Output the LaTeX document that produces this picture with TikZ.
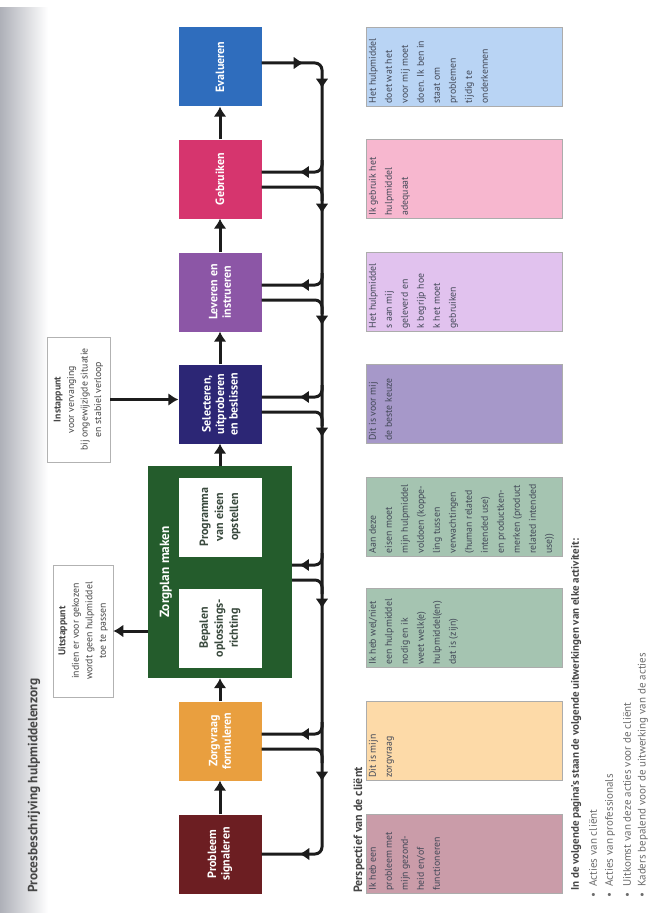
\documentclass[tikz,border=0pt]{standalone}
\usepackage{fontspec}
\setmainfont{PT Sans}
\usetikzlibrary{arrows.meta,calc,decorations.markings}
\definecolor{cEval}{HTML}{2F6DBD}
\definecolor{cGebr}{HTML}{D6356E}
\definecolor{cLev}{HTML}{8C56A6}
\definecolor{cSel}{HTML}{2C2675}
\definecolor{cGreen}{HTML}{245C2C}
\definecolor{cZorg}{HTML}{E99F3F}
\definecolor{cProb}{HTML}{6C1E22}
\definecolor{lEval}{HTML}{B9D4F4}
\definecolor{lGebr}{HTML}{F7B7CF}
\definecolor{lLev}{HTML}{E1C2EE}
\definecolor{lSel}{HTML}{A698C9}
\definecolor{lGreen}{HTML}{A5C4B1}
\definecolor{lZorg}{HTML}{FDDAA8}
\definecolor{lProb}{HTML}{CA9CA9}
\definecolor{ink}{HTML}{1C1C1C}
\definecolor{boxtext}{HTML}{424857}
\definecolor{innertext}{HTML}{3A4A3E}
\definecolor{titlegray}{HTML}{474747}
\definecolor{shadow}{HTML}{AEB0B8}
\begin{document}
\begin{tikzpicture}[x=1pt,y=1pt,
  proc/.style={rotate=90, minimum width=79pt, minimum height=83pt, inner sep=1pt,
    align=center, text=white, font=\fontsize{12}{13.5}\selectfont\bfseries},
  inner/.style={proc, fill=white, text=innertext, font=\fontsize{12}{15}\selectfont\bfseries},
  pers/.style={rotate=90, draw=gray!65, line width=0.6pt, inner sep=3pt,
    text=boxtext, font=\fontsize{9.8}{16}\selectfont},
  note/.style={rotate=90, draw=gray!60, line width=0.6pt, fill=white, align=center,
    text=titlegray, font=\fontsize{9.8}{13.5}\selectfont},
  flow/.style={line width=3pt, draw=ink, -{Latex[length=10pt,width=13pt]}},
  busline/.style={line width=3pt, draw=ink, rounded corners=7pt},
  tipsat/.style={postaction={decorate}, decoration={markings,
    mark=at position #1 with {\arrow{Latex[length=10pt,width=13pt]}}}},
  bulletitem/.style={rotate=90, anchor=west, inner sep=0pt, text=gray!85!black,
    font=\fontsize{11}{12}\selectfont}
]
\useasboundingbox (0,0) rectangle (648,-915);
\fill[white] (0,0) rectangle (648,-915);
\shade[left color=shadow, right color=white] (0,-8) rectangle (48,-912);

% title
\node[rotate=90, anchor=west, inner sep=0pt, text=titlegray,
  font=\fontsize{13.4}{15}\selectfont\bfseries] (title) at (34,-893)
  {Procesbeschrijving hulpmiddelenzorg};

% process boxes
\node[proc, fill=cEval] (eval) at (220,-67) {Evalueren};
\node[proc, fill=cGebr] (gebr) at (220,-179) {Gebruiken};
\node[proc, fill=cLev] (lev) at (220,-292) {Leveren en\\instrueren};
\node[proc, fill=cSel] (sel) at (220,-404) {Selecteren,\\uitproberen\\en beslissen};
\node[rotate=90, fill=cGreen, minimum width=212pt, minimum height=144pt, inner sep=0pt] (green) at (220,-572) {};
\node[rotate=90, text=white, inner sep=0pt, font=\fontsize{13.3}{15}\selectfont\bfseries] (zptitle) at (166,-572) {Zorgplan maken};
\node[inner] (prog) at (220,-517) {Programma\\van eisen\\opstellen};
\node[inner] (bep) at (220,-628) {Bepalen\\oplossings-\\richting};
\node[proc, fill=cZorg] (zorg) at (220,-741) {Zorgvraag\\formuleren};
\node[proc, fill=cProb] (prob) at (220,-854) {Probleem\\signaleren};

% entry / exit notes
\node[note, minimum width=125pt, minimum height=63pt] (inst) at (78.5,-399.5)
  {\textbf{Instappunt}\\voor vervanging\\bij ongewijzigde situatie\\en stabiel verloop};
\node[note, minimum width=132pt, minimum height=60pt] (uit) at (83,-631)
  {\textbf{Uitstappunt}\\indien er voor gekozen\\wordt geen hulpmiddel\\toe te passen};

% perspective boxes
\node[pers, fill=lEval] (pEval) at (464,-67) {\parbox[c][190pt][t]{73pt}{\raggedright
  Het hulpmiddel\\doet wat het\\voor mij moet\\doen. Ik ben in\\staat om\\problemen\\tijdig te\\onderkennen}};
\node[pers, fill=lGebr] (pGebr) at (464,-179) {\parbox[c][190pt][t]{73pt}{\raggedright
  Ik gebruik het\\hulpmiddel\\adequaat}};
\node[pers, fill=lLev] (pLev) at (464,-292) {\parbox[c][190pt][t]{73pt}{\raggedright
  Het hulpmiddel\\s aan mij\\geleverd en\\k begrijp hoe\\k het moet\\gebruiken}};
\node[pers, fill=lSel] (pSel) at (464,-404) {\parbox[c][190pt][t]{73pt}{\raggedright
  Dit is voor mij\\de beste keuze}};
\node[pers, fill=lGreen] (pProg) at (464,-517) {\parbox[c][190pt][t]{73pt}{\raggedright
  Aan deze\\eisen moet\\mijn hulpmiddel\\voldoen (koppe-\\ling tussen\\verwachtingen\\(human related\\intended use)\\en productken-\\merken (product\\related intended\\use))}};
\node[pers, fill=lGreen] (pBep) at (464,-628) {\parbox[c][190pt][t]{73pt}{\raggedright
  Ik heb wel/niet\\een hulpmiddel\\nodig en ik\\weet welk(e)\\hulpmiddel(en)\\dat is (zijn)}};
\node[pers, fill=lZorg] (pZorg) at (464,-741) {\parbox[c][190pt][t]{73pt}{\raggedright
  Dit is mijn\\zorgvraag}};
\node[pers, fill=lProb] (pProb) at (464,-854) {\parbox[c][190pt][t]{73pt}{\raggedright
  Ik heb een\\probleem met\\mijn gezond-\\heid en/of\\functioneren}};

\node[rotate=90, anchor=west, inner sep=0pt, text=titlegray,
  font=\fontsize{12}{14}\selectfont\bfseries] (perstitle) at (359,-893)
  {Perspectief van de cliënt};

% footer
\node[rotate=90, anchor=west, inner sep=0pt, text=titlegray,
  font=\fontsize{11}{13}\selectfont\bfseries] (foot) at (576,-891)
  {In de volgende pagina's staan de volgende uitwerkingen van elke activiteit:};
\node[bulletitem] (b1) at (593,-898) {•\hspace{6pt}Acties van cliënt};
\node[bulletitem] (b2) at (610,-898) {•\hspace{6pt}Acties van professionals};
\node[bulletitem] (b3) at (627,-898) {•\hspace{6pt}Uitkomst van deze acties voor de cliënt};
\node[bulletitem] (b4) at (643,-898) {•\hspace{6pt}Kaders bepalend voor de uitwerking van de acties};

% main sequence arrows
\draw[flow] (prob.east) -- (zorg.west);
\draw[flow] (zorg.east) -- (green.west);
\draw[flow] (green.east) -- (sel.west);
\draw[flow] (sel.east) -- (lev.west);
\draw[flow] (lev.east) -- (gebr.west);
\draw[flow] (gebr.east) -- (eval.west);
\draw[flow] (inst.south) -- (inst.south -| sel.north);
\draw[flow] (green.north |- uit.south) -- (uit.south);

% feedback bus
\coordinate (busbot) at (322,-854);
\draw[busline, postaction={decorate}, decoration={markings,
    mark=at position 42pt with {\arrow{Latex[length=10pt,width=13pt]}},
    mark=at position 83pt with {\arrow{Latex[length=10pt,width=13pt]}},
    mark=at position 208pt with {\arrow{Latex[length=10pt,width=13pt]}},
    mark=at position 320pt with {\arrow{Latex[length=10pt,width=13pt]}},
    mark=at position 432pt with {\arrow{Latex[length=10pt,width=13pt]}},
    mark=at position 603pt with {\arrow{Latex[length=10pt,width=13pt]}},
    mark=at position 776pt with {\arrow{Latex[length=10pt,width=13pt]}},
    mark=at position 868pt with {\arrow{Latex[length=10pt,width=13pt]}}}]
  ($(eval.south)+(0,4)$) -| (busbot) -- (prob.south);

\foreach \b in {gebr,lev,sel,green,zorg}{
  \draw[busline, tipsat=32pt] ($(\b.south -| busbot)+(0,19)$) |- ($(\b.south)+(0,7)$);
  \draw[busline] ($(\b.south)+(0,-8)$) -| ($(\b.south -| busbot)+(0,-22)$);
}
\end{tikzpicture}
\end{document}
